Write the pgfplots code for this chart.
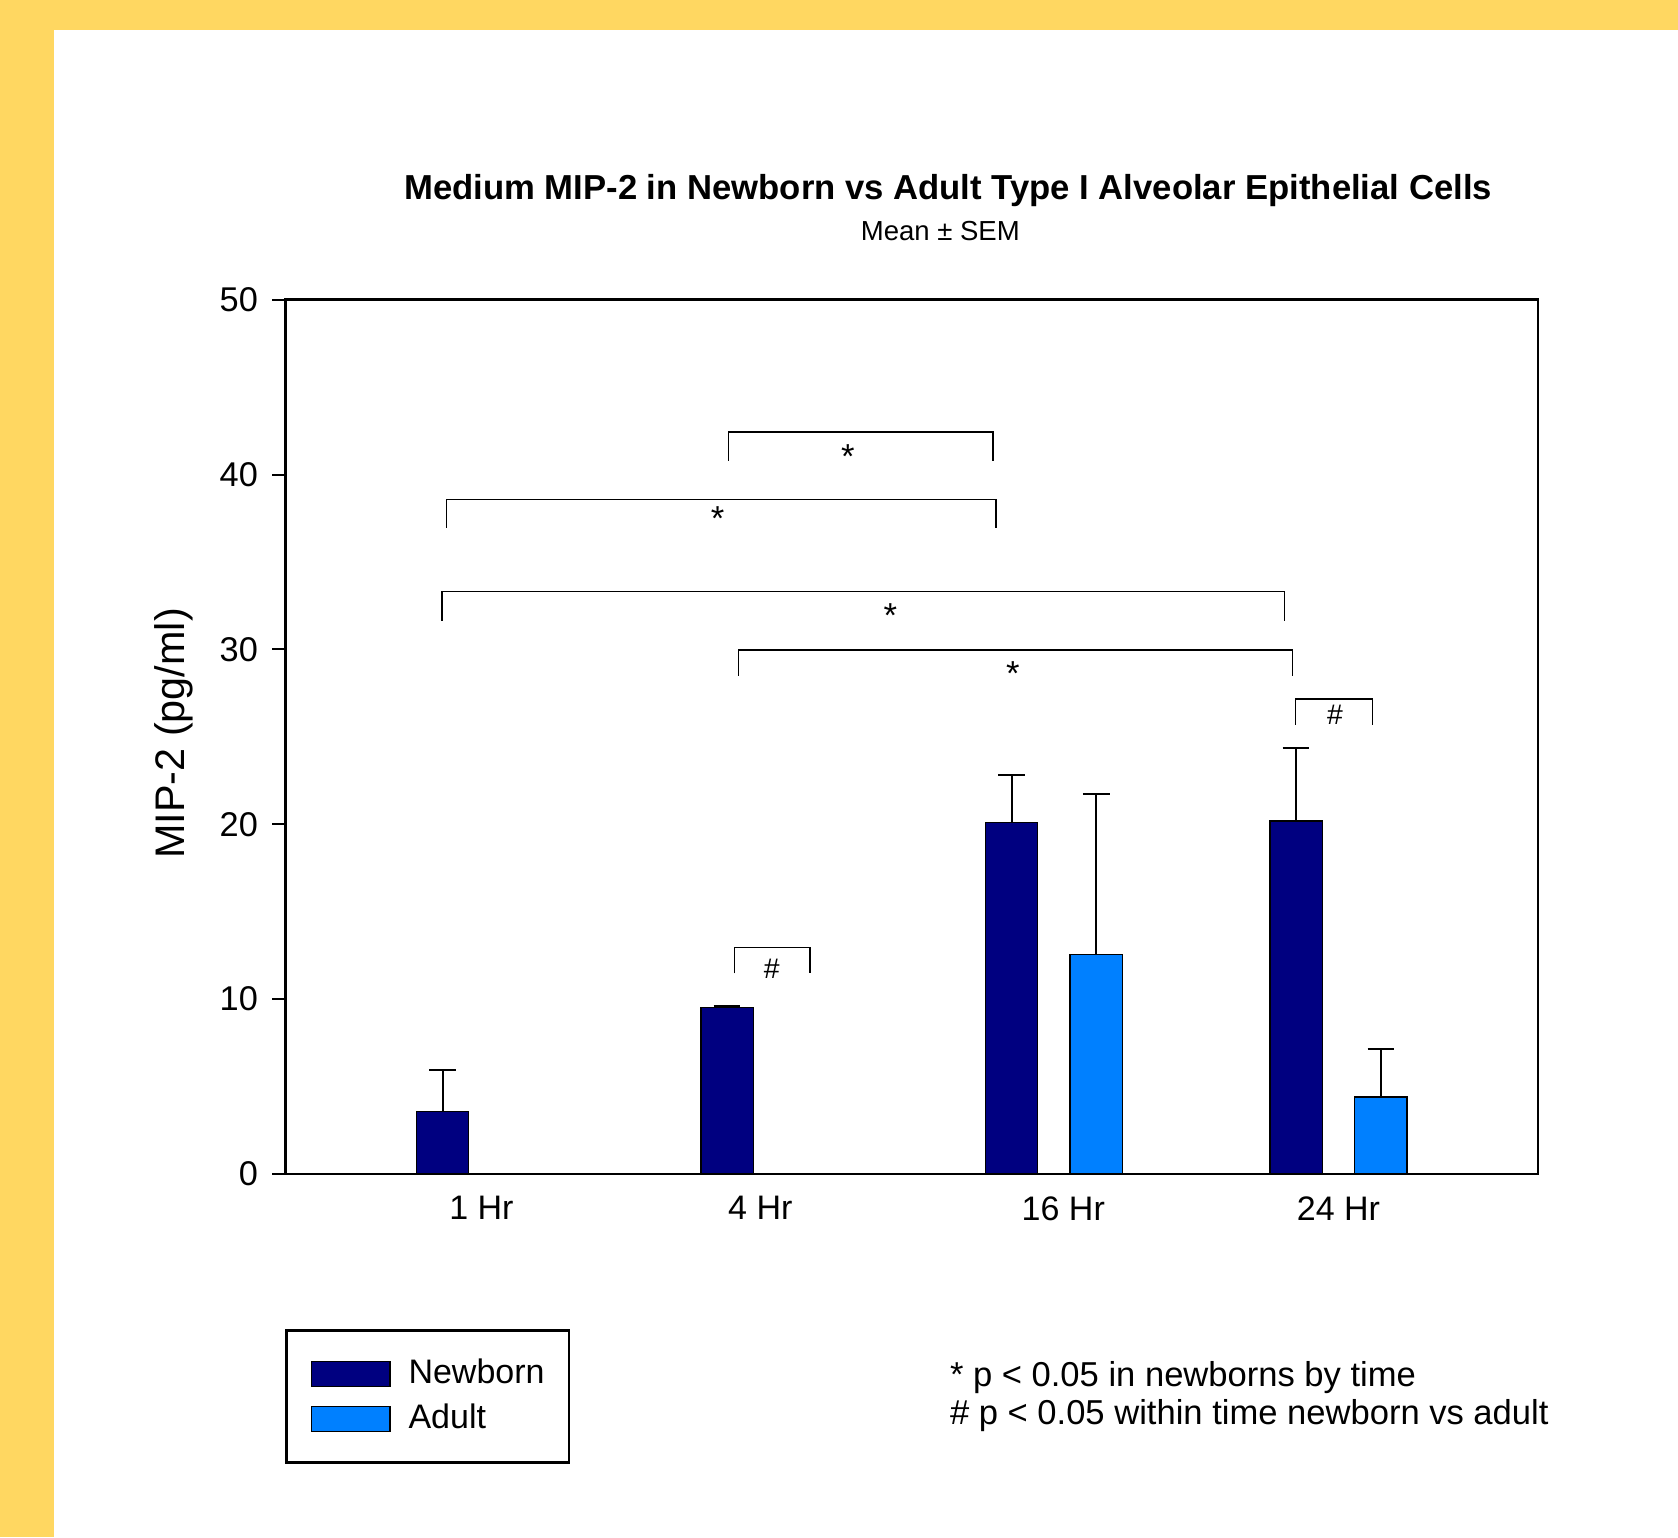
\documentclass[border=0pt]{standalone}
\usepackage{fontspec}
\setmainfont{Liberation Sans}
\usepackage{pgfplots}
\pgfplotsset{compat=1.18}
\definecolor{bgyellow}{RGB}{255,215,97}
\definecolor{newborn}{RGB}{0,0,128}
\definecolor{adult}{RGB}{0,128,255}

\pgfplotstableread{
x y e
0 3.56 2.39
1 9.53 0.08
2 20.09 2.73
3 20.18 4.16
}\newborndata
\pgfplotstableread{
x y e
2.298 12.54 9.19
3.298 4.40 2.73
}\adultdata

\begin{document}
\begin{tikzpicture}
\fill[bgyellow] (0,0) rectangle (503.4pt,461.1pt);
\fill[white] (16.05pt,0) rectangle (503.4pt,452.1pt);
\begin{axis}[
  at={(85.56pt,108.9pt)}, anchor=south west,
  scale only axis, width=375.8pt, height=262.3pt,
  xmin=-0.5529, xmax=3.850, ymin=0, ymax=50,
  clip=false,
  axis line style={line width=0.8pt},
  ytick={0,10,20,30,40,50},
  xtick={0.137,1.117,2.182,3.149},
  xticklabels={1 Hr,4 Hr,16 Hr,24 Hr},
  ytick pos=left, xtick pos=bottom,
  tick align=outside,
  major tick length=3.9pt,
  ytick style={line width=0.6pt, black},
  xtick style={draw=none},
  /pgf/number format/assume math mode=true,
  yticklabel style={font=\fontsize{10.3}{12}\selectfont, inner xsep=4.1pt},
  xticklabel style={font=\fontsize{10.2}{12}\selectfont, inner sep=0pt, anchor=north, yshift=-2.6pt},
  every axis title shift=0pt,
  title={Medium MIP-2 in Newborn vs Adult Type I Alveolar Epithelial Cells},
  title style={at={(axis description cs:0.5292,1.114)}, anchor=base, font=\bfseries\fontsize{10.4}{12}\selectfont, inner sep=0pt},
  ylabel={MIP-2 (pg/ml)},
  ylabel style={at={(axis description cs:-0.0803,0.504)}, anchor=base, rotate=0, font=\fontsize{12.4}{14}\selectfont, inner sep=0pt},
  legend style={at={(axis description cs:0,0)}, anchor=north west, yshift=-46.6pt,
    draw=black, line width=0.8pt, inner xsep=7.3pt, inner ysep=8.6pt,
    row sep=4.6pt, column sep=5.4pt, font=\fontsize{10.2}{12}\selectfont,
    nodes={inner sep=0pt}},
  legend cell align=left,
  ybar, bar width=15.7pt,
]
\addplot[ybar, bar shift=0pt, fill=newborn, draw=black, line width=0.4pt,
  legend image code/.code={\draw[fill=newborn, draw=black, line width=0.4pt] (0pt,-3.8pt) rectangle (23.5pt,3.8pt);},
  error bars/.cd, y dir=plus, y explicit,
  error bar style={line width=0.6pt, black},
  error mark options={rotate=90, mark size=4pt, line width=0.6pt, black}]
  table[x=x, y=y, y error=e] {\newborndata};
\addlegendentry{Newborn}
\addplot[ybar, bar shift=0pt, fill=adult, draw=black, line width=0.4pt,
  legend image code/.code={\draw[fill=adult, draw=black, line width=0.4pt] (0pt,-3.8pt) rectangle (23.5pt,3.8pt);},
  error bars/.cd, y dir=plus, y explicit,
  error bar style={line width=0.6pt, black},
  error mark options={rotate=90, mark size=4pt, line width=0.6pt, black}]
  table[x=x, y=y, y error=e] {\adultdata};
\addlegendentry{Adult}

% significance brackets
\draw[line width=0.45pt] (axis cs:1.005,40.78) |- (axis cs:1.935,42.42) -- (axis cs:1.935,40.78);
\draw[line width=0.45pt] (axis cs:0.0144,36.96) |- (axis cs:1.946,38.56) -- (axis cs:1.946,36.96);
\draw[line width=0.45pt] (axis cs:-0.0014,31.64) |- (axis cs:2.960,33.30) -- (axis cs:2.960,31.64);
\draw[line width=0.45pt] (axis cs:1.041,28.48) |- (axis cs:2.987,29.98) -- (axis cs:2.987,28.48);
\draw[line width=0.45pt] (axis cs:2.998,25.68) |- (axis cs:3.269,27.15) -- (axis cs:3.269,25.68);
\draw[line width=0.45pt] (axis cs:1.026,11.48) |- (axis cs:1.291,12.94) -- (axis cs:1.291,11.48);
\node[font=\fontsize{10.4}{12}\selectfont, inner sep=0pt, yshift=-0.6pt] at (axis cs:1.425,41.12) {*};
\node[font=\fontsize{10.4}{12}\selectfont, inner sep=0pt, yshift=-0.6pt] at (axis cs:0.967,37.59) {*};
\node[font=\fontsize{10.4}{12}\selectfont, inner sep=0pt, yshift=-0.6pt] at (axis cs:1.574,32.07) {*};
\node[font=\fontsize{10.4}{12}\selectfont, inner sep=0pt, yshift=-0.6pt] at (axis cs:2.005,28.73) {*};
\node[font=\fontsize{8.5}{10}\selectfont, inner sep=0pt] at (axis cs:3.137,26.25) {\#};
\node[font=\fontsize{8.5}{10}\selectfont, inner sep=0pt] at (axis cs:1.157,11.76) {\#};
\node[anchor=base, font=\fontsize{8.26}{10}\selectfont, inner sep=0pt] at (axis description cs:0.523,1.0675) {Mean ± SEM};
\end{axis}
\node[anchor=base west, font=\fontsize{10.37}{12}\selectfont, inner sep=0pt] at (284.8pt,45.3pt) {* p < 0.05 in newborns by time};
\node[anchor=base west, font=\fontsize{10.37}{12}\selectfont, inner sep=0pt] at (284.8pt,33.9pt) {\# p < 0.05 within time newborn vs adult};
\end{tikzpicture}
\end{document}
